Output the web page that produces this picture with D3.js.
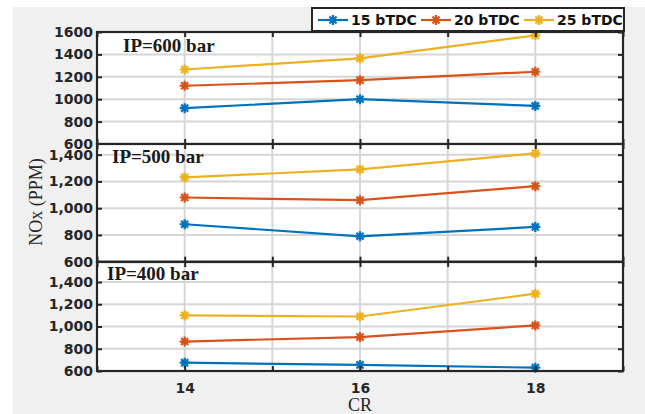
<!DOCTYPE html>
<html><head><meta charset="utf-8">
<script src="https://cdn.jsdelivr.net/npm/d3@7"></script>
<style>
html,body{margin:0;padding:0;background:#fff;}
svg{display:block;}
</style></head>
<body><svg id="c" width="645" height="414"></svg>
<script>
const crValues = [14, 16, 18];
const seriesNames = ["15 bTDC", "20 bTDC", "25 bTDC"];
const seriesColors = ["#0072BD", "#D95319", "#EDB120"];
const panelTitles = ["IP=600 bar", "IP=500 bar", "IP=400 bar"];
const ip600 = [[920, 1000, 940], [1120, 1170, 1245], [1265, 1365, 1570]];
const ip500 = [[880, 790, 860], [1080, 1060, 1165], [1230, 1290, 1410]];
const ip400 = [[675, 655, 630], [865, 905, 1010], [1100, 1090, 1295]];
const yTicks600 = [600, 800, 1000, 1200, 1400, 1600];
const yTicks500 = [600, 800, 1000, 1200, 1400];
const yTicks400 = [600, 800, 1000, 1200, 1400];
const xTickLabels = [14, 16, 18];

const svg = d3.select("#c");
svg.append("rect").attr("x", 13).attr("y", 7).attr("width", 632).attr("height", 407).attr("fill", "#f0f0f0");

const L = 97, R = 623;
const x = d3.scaleLinear().domain([13, 19]).range([L, R]);
const xGrid = d3.range(13, 20);

const panels = [
  {data: ip600, title: panelTitles[0], top: 32, bottom: 144, dom: [600, 1600], ticks: yTicks600, fmt: d3.format("d"), tx: 123, ty: 52},
  {data: ip500, title: panelTitles[1], top: 144, bottom: 261.7, dom: [600, 1480], ticks: yTicks500, fmt: d3.format(","), tx: 112, ty: 163},
  {data: ip400, title: panelTitles[2], top: 262, bottom: 371, dom: [600, 1580], ticks: yTicks400, fmt: d3.format(","), tx: 107, ty: 280}
];

const axisColor = "#262626";
const tickFont = "'DejaVu Sans', sans-serif";

function asterisk(g, cx, cy, r, color) {
  const d = r * Math.SQRT1_2;
  const p = `M${cx - r},${cy}L${cx + r},${cy}M${cx},${cy - r}L${cx},${cy + r}` +
    `M${cx - d},${cy - d}L${cx + d},${cy + d}M${cx - d},${cy + d}L${cx + d},${cy - d}`;
  g.append("path").attr("d", p).attr("stroke", color).attr("stroke-width", 2.2).attr("fill", "none");
}

panels.forEach((p, pi) => {
  const y = d3.scaleLinear().domain(p.dom).range([p.bottom, p.top]);
  const g = svg.append("g");
  g.append("rect").attr("x", L).attr("y", p.top).attr("width", R - L).attr("height", p.bottom - p.top).attr("fill", "#fff");
  // grid
  g.selectAll(".vg").data(xGrid).join("line")
    .attr("x1", d => x(d)).attr("x2", d => x(d)).attr("y1", p.top).attr("y2", p.bottom)
    .attr("stroke", "#d6d6d6").attr("stroke-width", 2);
  g.selectAll(".hg").data(p.ticks).join("line")
    .attr("x1", L).attr("x2", R).attr("y1", d => y(d)).attr("y2", d => y(d))
    .attr("stroke", "#d6d6d6").attr("stroke-width", 2);

  // title
  g.append("text").attr("x", p.tx).attr("y", p.ty).text(p.title)
    .attr("font-family", "'Liberation Serif', 'Times New Roman', serif").attr("font-weight", "bold")
    .attr("font-size", 19).attr("fill", "#1a1a1a");

  // series
  p.data.forEach((vals, si) => {
    const pts = crValues.map((c, i) => [x(c), y(vals[i])]);
    g.append("path").attr("d", d3.line()(pts)).attr("fill", "none")
      .attr("stroke", seriesColors[si]).attr("stroke-width", 2.2);
    pts.forEach(pt => asterisk(g, pt[0], pt[1], 5, seriesColors[si]));
  });

  // axes
  const ay = g.append("g").attr("transform", `translate(${L},0)`)
    .call(d3.axisLeft(y).tickValues(p.ticks).tickFormat(p.fmt).tickSize(-5).tickPadding(4));
  ay.select(".domain").remove();
  ay.selectAll("line").attr("stroke", axisColor).attr("stroke-width", 2);
  ay.selectAll("text").attr("font-family", tickFont).attr("font-weight", "bold").attr("font-size", 14).attr("fill", axisColor);

  const ayr = g.append("g").attr("transform", `translate(${R},0)`)
    .call(d3.axisRight(y).tickValues(p.ticks).tickSize(-5).tickFormat(""));
  ayr.select(".domain").remove();
  ayr.selectAll("line").attr("stroke", axisColor).attr("stroke-width", 2);

  const axt = g.append("g").attr("transform", `translate(0,${p.top})`)
    .call(d3.axisTop(x).tickValues(xGrid).tickSize(-5).tickFormat(""));
  axt.select(".domain").remove();
  axt.selectAll("line").attr("stroke", axisColor).attr("stroke-width", 2);

  const axb = g.append("g").attr("transform", `translate(0,${p.bottom})`)
    .call(d3.axisBottom(x).tickValues(xGrid).tickSize(-5)
      .tickFormat(d => (pi === 2 && xTickLabels.includes(d)) ? d : "").tickPadding(12));
  axb.select(".domain").remove();
  axb.selectAll("line").attr("stroke", axisColor).attr("stroke-width", 2);
  axb.selectAll("text").attr("font-family", tickFont).attr("font-weight", "bold").attr("font-size", 14).attr("fill", axisColor);

  g.append("rect").attr("x", L).attr("y", p.top).attr("width", R - L).attr("height", p.bottom - p.top)
    .attr("fill", "none").attr("stroke", axisColor).attr("stroke-width", 2.2);
});

// axis titles
svg.append("text").attr("transform", "translate(42,202) rotate(-90)").attr("text-anchor", "middle")
  .attr("font-family", "'Liberation Serif', 'Times New Roman', serif").attr("font-size", 18)
  .attr("fill", axisColor).text("NOx (PPM)");
svg.append("text").attr("x", x(16)).attr("y", 411).attr("text-anchor", "middle")
  .attr("font-family", "'Liberation Serif', 'Times New Roman', serif").attr("font-size", 18)
  .attr("fill", axisColor).text("CR");

// legend
const lg = svg.append("g");
lg.append("rect").attr("x", 312).attr("y", 8).attr("width", 312).attr("height", 23)
  .attr("fill", "#fff").attr("stroke", axisColor).attr("stroke-width", 2);
const legX = [318, 421, 524];
seriesNames.forEach((n, i) => {
  const lx = legX[i];
  lg.append("line").attr("x1", lx).attr("x2", lx + 30).attr("y1", 20).attr("y2", 20)
    .attr("stroke", seriesColors[i]).attr("stroke-width", 2.2);
  asterisk(lg, lx + 15, 20, 5, seriesColors[i]);
  lg.append("text").attr("x", lx + 33).attr("y", 25).text(n)
    .attr("font-family", tickFont).attr("font-weight", "bold").attr("font-size", 14).attr("fill", "#111");
});
</script></body></html>
